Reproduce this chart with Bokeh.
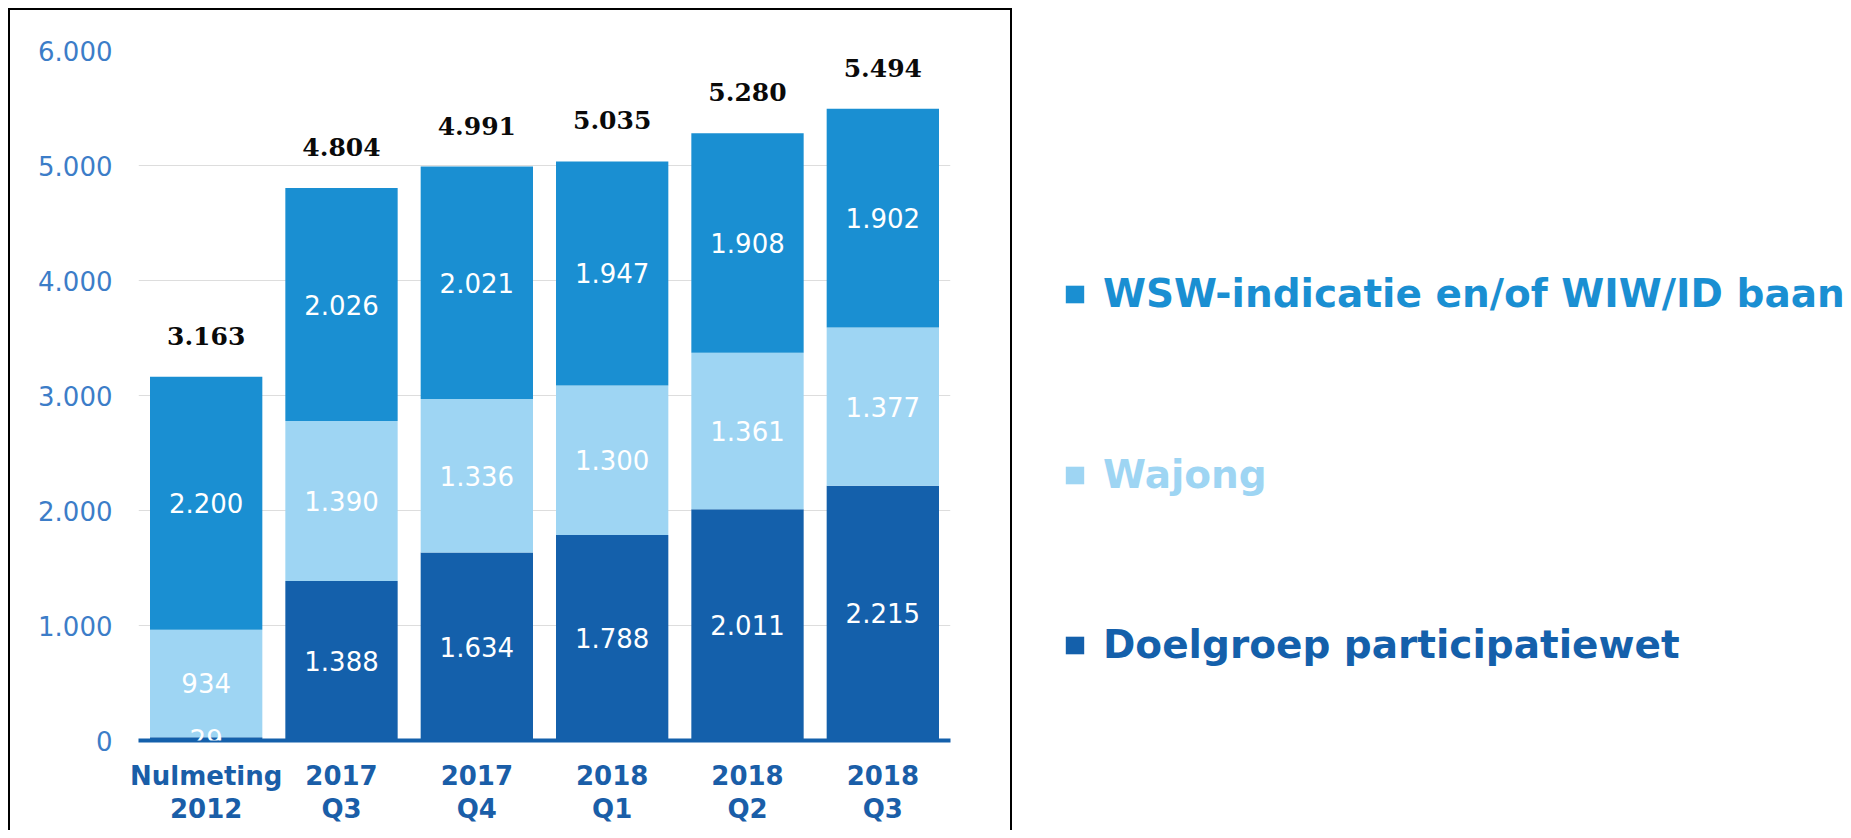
from bokeh.plotting import figure
from bokeh.models import ColumnDataSource, LabelSet, Legend, LegendItem, Range1d, FactorRange
from bokeh.core.properties import value
from bokeh.layouts import row
from bokeh.embed import file_html
from bokeh.resources import INLINE

categories = ["Nulmeting\n2012", "2017\nQ3", "2017\nQ4", "2018\nQ1", "2018\nQ2", "2018\nQ3"]
doelgroep = [29, 1388, 1634, 1788, 2011, 2215]
wajong = [934, 1390, 1336, 1300, 1361, 1377]
wsw = [2200, 2026, 2021, 1947, 1908, 1902]
series_names = ["WSW-indicatie en/of WIW/ID baan", "Wajong", "Doelgroep participatiewet"]
y_ticks = [0, 1000, 2000, 3000, 4000, 5000, 6000]

C_WSW = "#1a8fd2"
C_WAJ = "#9ed5f3"
C_DOEL = "#1460ab"
C_TICK = "#3c7dc8"
C_XLAB = "#1a5ea8"


def nl(v):
    return f"{v:,}".replace(",", ".")


totals = [a + b + c for a, b, c in zip(doelgroep, wajong, wsw)]

src = ColumnDataSource(dict(cat=categories, doel=doelgroep, wajong=wajong, wsw=wsw))

lab_x, lab_y, lab_t = [], [], []
for i, cat in enumerate(categories):
    base = 0
    for vals in (doelgroep, wajong, wsw):
        v = vals[i]
        lab_x.append(cat)
        lab_y.append(base + v / 2)
        lab_t.append(nl(v))
        base += v
lab_src = ColumnDataSource(dict(x=lab_x, y=lab_y, t=lab_t))
tot_src = ColumnDataSource(dict(x=categories, y=totals, t=[nl(t) for t in totals]))

p1 = figure(x_range=FactorRange(*categories), y_range=Range1d(0, 6000),
            width=1004, height=822, output_backend="svg", toolbar_location=None,
            min_border_left=128, min_border_right=64, min_border_top=40, min_border_bottom=92)
p1.styles = {"border-top": "2px solid black", "border-left": "2px solid black",
             "border-right": "2px solid black", "box-sizing": "border-box"}
p1.outline_line_color = None

p1.vbar_stack(["doel", "wajong", "wsw"], x="cat", width=0.83, source=src,
              fill_color=[C_DOEL, C_WAJ, C_WSW], line_color=None)

p1.add_layout(LabelSet(x="x", y="y", text="t", source=lab_src, text_color="white",
                       text_font=value("DejaVu Sans"), text_font_size="26px",
                       text_align="center", text_baseline="middle"))
p1.add_layout(LabelSet(x="x", y="y", text="t", source=tot_src, text_color="#0a0a0a",
                       text_font=value("DejaVu Serif"), text_font_style="bold",
                       text_font_size="25px",
                       text_align="center", text_baseline="middle", y_offset=41))

p1.xgrid.visible = False
p1.ygrid.grid_line_color = "#dddddd"
p1.ygrid.grid_line_width = 1

p1.yaxis.ticker = y_ticks
p1.yaxis.major_label_overrides = {t: nl(t) for t in y_ticks}
p1.yaxis.axis_line_color = None
p1.yaxis.major_tick_line_color = None
p1.yaxis.minor_tick_line_color = None
p1.yaxis.major_label_standoff = 20
p1.yaxis.major_label_text_font = "DejaVu Sans"
p1.yaxis.major_label_text_font_size = "26px"
p1.yaxis.major_label_text_color = C_TICK

p1.xaxis.axis_line_color = C_DOEL
p1.xaxis.axis_line_width = 4
p1.xaxis.major_tick_line_color = None
p1.xaxis.minor_tick_line_color = None
p1.xaxis.major_label_standoff = 14
p1.xaxis.major_label_text_font = "DejaVu Sans"
p1.xaxis.major_label_text_font_style = "bold"
p1.xaxis.major_label_text_font_size = "26px"
p1.xaxis.major_label_text_color = C_XLAB
p1.xaxis.major_label_text_line_height = 1.12

p2 = figure(width=836, height=822, x_range=Range1d(0, 1), y_range=Range1d(0, 1),
            output_backend="svg", toolbar_location=None, x_axis_location=None,
            y_axis_location=None, min_border=0)
p2.outline_line_color = None
p2.grid.visible = False

legend_colors = [C_WSW, C_WAJ, C_DOEL]
legend_y = [422, 241, 71]
for name, col, ly in zip(series_names, legend_colors, legend_y):
    # zero-size swatch renderer, only used to draw the legend square
    r = p2.vbar(x=[0], top=[0], bottom=[0], width=0, fill_color=col, line_color=None)
    lg = Legend(items=[LegendItem(label=name, renderers=[r])], location=(51, ly),
                glyph_width=23, glyph_height=22, label_standoff=17,
                label_text_font="DejaVu Sans", label_text_font_style="bold",
                label_text_font_size="39px", label_text_color=col,
                border_line_color=None, background_fill_alpha=0,
                padding=0, margin=0)
    p2.add_layout(lg)

layout = row(p1, p2, styles={"margin-left": "8px", "margin-top": "8px"})
open("out.html", "w").write(file_html(layout, INLINE))
